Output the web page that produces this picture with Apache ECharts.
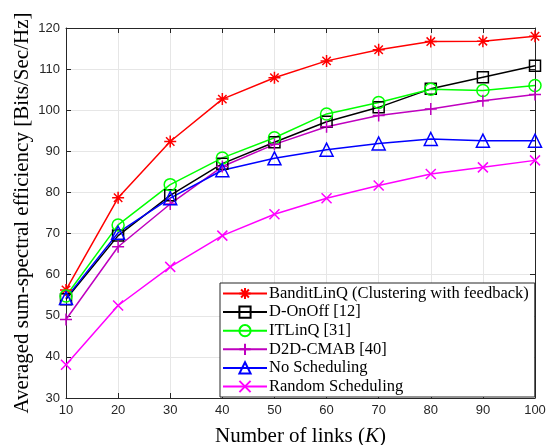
<!DOCTYPE html>
<html><head><meta charset="utf-8">
<script src="https://cdn.jsdelivr.net/npm/echarts@6/dist/echarts.min.js"></script>
<style>html,body{margin:0;padding:0;background:#fff}#c{width:546px;height:445px}</style>
</head><body><div id="c"></div>
<script>
const links = [10,20,30,40,50,60,70,80,90,100];
const banditLinQ = [56.3,78.7,92.4,102.7,107.9,112.0,114.7,116.7,116.8,118.0];
const dOnOff = [54.0,69.5,79.3,87.0,92.2,97.2,100.7,105.2,108.0,110.8];
const itLinQ = [54.8,72.1,81.9,88.4,93.3,99.1,101.9,105.1,104.8,106.0];
const d2dCmab = [49.1,66.8,77.2,86.3,91.7,96.0,98.7,100.3,102.3,103.8];
const noSched = [54.3,70.2,78.6,85.4,88.3,90.4,91.9,93.0,92.6,92.6];
const randomSched = [38.1,52.5,61.9,69.5,74.7,78.6,81.7,84.5,86.1,87.8];
const xTicks = [10,100,10];
const yTicks = [30,120,10];

const ASTER = 'path://M5,0L5,10M0,5L10,5M1.5,1.5L8.5,8.5M8.5,1.5L1.5,8.5';
const PLUS = 'path://M5,0L5,10M0,5L10,5';
const CROSS = 'path://M0,0L10,10M10,0L0,10';

function mk(name, data, color, symbol, size){
  return {
    name, type:'line', data: links.map((x,i)=>[x,data[i]]),
    symbol, symbolSize:size, showSymbol:true,
    color: color,
    lineStyle:{color, width:1.5},
    itemStyle:{color:'rgba(0,0,0,0)', borderColor:color, borderWidth:1.5},
    emphasis:{disabled:true}, animation:false, z:3
  };
}
const series = [
  mk('BanditLinQ (Clustering with feedback)', banditLinQ, '#ff0000', ASTER, 12),
  mk('D-OnOff [12]', dOnOff, '#000000', 'rect', 11),
  mk('ITLinQ [31]', itLinQ, '#00ff00', 'circle', 12),
  mk('D2D-CMAB [40]', d2dCmab, '#bf00bf', PLUS, 12),
  mk('No Scheduling', noSched, '#0000ff', 'triangle', 13),
  mk('Random Scheduling', randomSched, '#ff00ff', CROSS, 10)
];

const chart = echarts.init(document.getElementById('c'), null, {renderer:'canvas'});
const tickLabel = {color:'#262626', fontSize:13, fontFamily:'Liberation Sans, Arial, sans-serif'};
chart.setOption({
  backgroundColor:'#fff',
  animation:false,
  grid:{left:66, right:11, top:28, bottom:47, containLabel:false, outerBoundsMode:'none'},
  legend:{
    orient:'vertical', left:220, top:283,
    backgroundColor:'#fff', borderColor:'#262626', borderWidth:1, borderRadius:0,
    padding:[2,6,2,2], itemGap:1.6, itemWidth:44, itemHeight:14,
    textStyle:{fontFamily:'Liberation Serif, serif', fontSize:16.5, color:'#000', padding:[0,0,0,-3]},
    data: series.map(s=>s.name)
  },
  xAxis:[{
    type:'value', min:xTicks[0], max:xTicks[1], interval:xTicks[2],
    name:'Number of links ({i|K})', nameLocation:'middle', nameGap:28, nameMoveOverlap:false,
    nameTextStyle:{fontFamily:'Liberation Serif, serif', fontSize:21, color:'#000',
      rich:{i:{fontFamily:'Liberation Serif, serif', fontSize:21, fontStyle:'italic', color:'#000'}}},
    axisLine:{lineStyle:{color:'#262626', width:1}},
    axisTick:{inside:true, length:5, lineStyle:{color:'#262626'}},
    axisLabel:Object.assign({margin:6}, tickLabel),
    splitLine:{show:true, lineStyle:{color:'#e6e6e6', width:1}}
  },{
    type:'value', min:xTicks[0], max:xTicks[1], interval:xTicks[2], position:'top',
    axisLine:{lineStyle:{color:'#262626', width:1}},
    axisTick:{inside:true, length:5, lineStyle:{color:'#262626'}},
    axisLabel:{show:false}, splitLine:{show:false}
  }],
  yAxis:[{
    type:'value', min:yTicks[0], max:yTicks[1], interval:yTicks[2],
    name:'Averaged sum-spectral efficiency [Bits/Sec/Hz]', nameLocation:'middle', nameGap:33, nameMoveOverlap:false,
    nameTextStyle:{fontFamily:'Liberation Serif, serif', fontSize:21, color:'#000'},
    axisLine:{show:true, lineStyle:{color:'#262626', width:1}},
    axisTick:{show:true, inside:true, length:5, lineStyle:{color:'#262626'}},
    axisLabel:Object.assign({margin:6}, tickLabel),
    splitLine:{show:true, lineStyle:{color:'#e6e6e6', width:1}}
  },{
    type:'value', min:yTicks[0], max:yTicks[1], interval:yTicks[2], position:'right',
    axisLine:{show:true, lineStyle:{color:'#262626', width:1}},
    axisTick:{show:true, inside:true, length:5, lineStyle:{color:'#262626'}},
    axisLabel:{show:false}, splitLine:{show:false}
  }],
  series
});
</script></body></html>
